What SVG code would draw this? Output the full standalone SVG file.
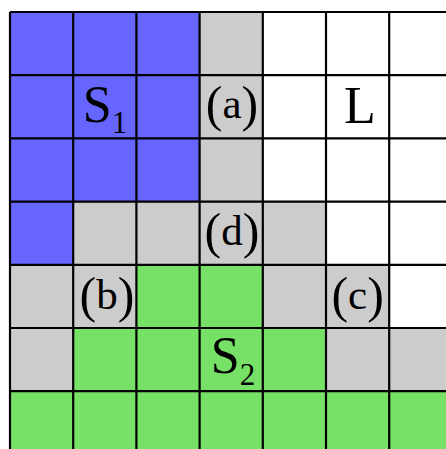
<svg xmlns="http://www.w3.org/2000/svg" width="446" height="449" viewBox="0 0 446 449">
<style>
.b{fill:#6666ff}
.g{fill:#cccccc}
.n{fill:#77e066}
.w{fill:#ffffff}
.gl{stroke:#000;stroke-width:2.2;fill:none}
.t{font-family:"Liberation Serif","Times New Roman",serif;font-size:50px;fill:#000;text-anchor:middle}
.s{font-size:52px}
.sub{font-size:31px}
.l{font-size:43px}
</style>
<rect width="446" height="449" fill="#fff"/>
<g id="cells">
<rect class="b" x="10" y="12" width="63.2" height="63.2"/>
<rect class="b" x="73.2" y="12" width="63.2" height="63.2"/>
<rect class="b" x="136.4" y="12" width="63.2" height="63.2"/>
<rect class="g" x="199.6" y="12" width="63.2" height="63.2"/>
<rect class="b" x="10" y="75.2" width="63.2" height="63.2"/>
<rect class="b" x="73.2" y="75.2" width="63.2" height="63.2"/>
<rect class="b" x="136.4" y="75.2" width="63.2" height="63.2"/>
<rect class="g" x="199.6" y="75.2" width="63.2" height="63.2"/>
<rect class="b" x="10" y="138.4" width="63.2" height="63.2"/>
<rect class="b" x="73.2" y="138.4" width="63.2" height="63.2"/>
<rect class="b" x="136.4" y="138.4" width="63.2" height="63.2"/>
<rect class="g" x="199.6" y="138.4" width="63.2" height="63.2"/>
<rect class="b" x="10" y="201.6" width="63.2" height="63.2"/>
<rect class="g" x="73.2" y="201.6" width="252.8" height="63.2"/>
<rect class="g" x="10" y="264.8" width="126.4" height="63.2"/>
<rect class="n" x="136.4" y="264.8" width="126.4" height="63.2"/>
<rect class="g" x="262.8" y="264.8" width="126.4" height="63.2"/>
<rect class="g" x="10" y="328" width="63.2" height="63.2"/>
<rect class="n" x="73.2" y="328" width="252.8" height="63.2"/>
<rect class="g" x="326" y="328" width="120" height="63.2"/>
<rect class="n" x="10" y="391.2" width="436" height="58"/>
</g>
<g id="grid" class="gl">
<path d="M10 12V449M73.2 12V449M136.4 12V449M199.6 12V449M262.8 12V449M326 12V449M389.2 12V449"/>
<path d="M10 12H446M10 75.2H446M10 138.4H446M10 201.6H446M10 264.8H446M10 328H446M10 391.2H446"/>
</g>
<g id="S1"><text class="t s" x="105" y="122">S<tspan class="sub" dy="11">1</tspan></text></g>
<g id="a"><text class="t" x="232" y="121">(<tspan class="l" dy="-3">a</tspan><tspan dy="3">)</tspan></text></g>
<g id="L"><text class="t s" x="360" y="123">L</text></g>
<g id="d"><text class="t" x="232" y="248">(<tspan class="l" dy="-3">d</tspan><tspan dy="3">)</tspan></text></g>
<g id="b_"><text class="t" x="107" y="312">(<tspan class="l" dy="-3">b</tspan><tspan dy="3">)</tspan></text></g>
<g id="c"><text class="t" x="357.6" y="312">(<tspan class="l" dy="-3">c</tspan><tspan dy="3">)</tspan></text></g>
<g id="S2"><text class="t s" x="233" y="373">S<tspan class="sub" dy="12">2</tspan></text></g>
</svg>
